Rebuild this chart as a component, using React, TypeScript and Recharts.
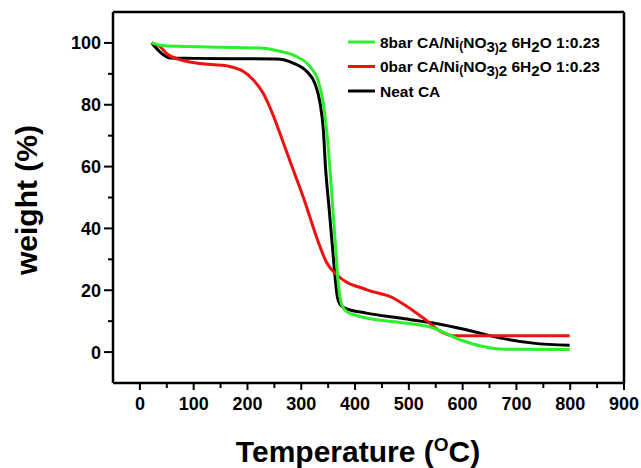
import React from "react";
import {
  LineChart,
  Line,
  XAxis,
  YAxis,
  ReferenceLine,
} from "recharts";

// 8bar CA/Ni(NO3)2 6H2O 1:0.23
const greenTemp = [22, 40, 74, 150, 229, 260, 291, 316, 331, 341, 347, 353, 358, 363, 367, 371, 376, 385, 400, 421, 483, 545, 595, 638, 669, 700, 799];
const greenWeight = [100, 99.2, 98.9, 98.6, 98.3, 97.3, 95.6, 92.4, 88, 80.5, 72, 60, 48, 36, 26, 19, 15, 13, 12, 11, 9.6, 7.8, 4, 1.8, 1, 0.9, 0.8];

// 0bar CA/Ni(NO3)2 6H2O 1:0.23
const redTemp = [22, 37, 50, 74, 105, 167, 192, 211, 229, 248, 266, 285, 307, 328, 347, 366, 421, 471, 496, 527, 564, 582, 650, 799];
const redWeight = [100, 98.9, 96.5, 94.6, 93.5, 92.4, 90.8, 88, 83.8, 76.5, 68, 59, 48.5, 37.4, 29, 25, 20.2, 17.5, 14.8, 11, 6.2, 5.3, 5.3, 5.3];

// Neat CA
const blackTemp = [22, 35, 43, 56, 100, 254, 285, 310, 325, 335, 341, 345, 352, 358, 363, 367, 372, 380, 421, 483, 545, 607, 669, 731, 799];
const blackWeight = [100, 97.5, 96.2, 95.1, 95, 94.8, 93.5, 90.8, 87, 80.5, 72, 60, 46, 34, 24, 18, 15.5, 14.3, 12.6, 11, 9.4, 7.2, 4.6, 2.9, 2.2];

const xTicks = [0, 50, 100, 150, 200, 250, 300, 350, 400, 450, 500, 550, 600, 650, 700, 750, 800, 850, 900];
const yTicks = [0, 10, 20, 30, 40, 50, 60, 70, 80, 90, 100];

const seriesNames = [
  "8bar CA/Ni(NO3)2 6H2O 1:0.23",
  "0bar CA/Ni(NO3)2 6H2O 1:0.23",
  "Neat CA",
];
const seriesColors = ["#2cf02c", "#ee1111", "#000000"];

const toPoints = (temps: number[], weights: number[]) =>
  temps.map((t, i) => ({ t, w: weights[i] }));

const greenData = toPoints(greenTemp, greenWeight);
const redData = toPoints(redTemp, redWeight);
const blackData = toPoints(blackTemp, blackWeight);

const FONT = "'Liberation Sans', Arial, sans-serif";

function XTick({ x, y, payload }: any) {
  const major = payload.value % 100 === 0;
  return (
    <g>
      <line x1={x} y1={y} x2={x} y2={y + (major ? 7 : 5)} stroke="#000" strokeWidth={2} />
      {major && (
        <text x={x} y={y + 27} textAnchor="middle" fontFamily={FONT} fontWeight="bold" fontSize={18} fill="#000">
          {payload.value}
        </text>
      )}
    </g>
  );
}

function YTick({ x, y, payload }: any) {
  const major = payload.value % 20 === 0;
  return (
    <g>
      <line x1={x} y1={y} x2={x - (major ? 9 : 5)} y2={y} stroke="#000" strokeWidth={2} />
      {major && (
        <text x={x - 12} y={y + 6.5} textAnchor="end" fontFamily={FONT} fontWeight="bold" fontSize={18} fill="#000">
          {payload.value}
        </text>
      )}
    </g>
  );
}

// the salt formula with its small brackets and subscripts
function Formula({ prefix }: { prefix: string }) {
  return (
    <>
      <tspan>{prefix} CA/Ni</tspan>
      <tspan fontSize={12} dy={2}>(</tspan>
      <tspan fontSize={15.5} dy={-2}>NO</tspan>
      <tspan fontSize={15} dy={4}>3</tspan>
      <tspan fontSize={12}>)</tspan>
      <tspan fontSize={15}>2</tspan>
      <tspan fontSize={15.5} dy={-4}> 6H</tspan>
      <tspan fontSize={15} dy={4}>2</tspan>
      <tspan fontSize={15.5} dy={-4}>O 1:0.23</tspan>
    </>
  );
}

function Overlay() {
  return (
    <svg width={641} height={468} style={{ position: "absolute", left: 0, top: 0, pointerEvents: "none" }}>
      <g transform="translate(340 28)">
        {seriesNames.map((name, i) => {
          const cy = 14 + i * 24.5;
          return (
            <g key={name}>
              <line x1={8} x2={35} y1={cy} y2={cy} stroke={seriesColors[i]} strokeWidth={3} />
              <text x={40} y={cy + 5.5} fontFamily={FONT} fontWeight="bold" fontSize={15.5} fill="#000">
                {i < 2 ? <Formula prefix={name.split(" ")[0]} /> : name}
              </text>
            </g>
          );
        })}
      </g>
      <text x={358} y={462} textAnchor="middle" fontFamily={FONT} fontWeight="bold" fontSize={30} fill="#000">
        Temperature (
        <tspan fontSize={19} dy={-11}>O</tspan>
        <tspan fontSize={30} dy={11}>C)</tspan>
      </text>
      <text
        x={37}
        y={200}
        transform="rotate(-90 37 200)"
        textAnchor="middle"
        fontFamily={FONT}
        fontWeight="bold"
        fontSize={30}
        fill="#000"
      >
        weight (%)
      </text>
    </svg>
  );
}

export default function App() {
  return (
    <div style={{ position: "absolute", left: 0, top: 0, width: 641, height: 468, background: "#fff" }}>
      <LineChart width={641} height={468} margin={{ top: 12, right: 17, bottom: 25, left: 53 }}>
        <XAxis
          type="number"
          dataKey="t"
          domain={[-50, 900]}
          ticks={xTicks}
          interval={0}
          allowDataOverflow
          height={60}
          tickSize={0}
          tickMargin={0}
          tickLine={false}
          axisLine={{ stroke: "#000", strokeWidth: 2.5 }}
          tick={<XTick />}
        />
        <YAxis
          type="number"
          dataKey="w"
          domain={[-10, 110]}
          ticks={yTicks}
          interval={0}
          allowDataOverflow
          width={60}
          tickSize={0}
          tickMargin={0}
          tickLine={false}
          axisLine={{ stroke: "#000", strokeWidth: 2.5 }}
          tick={<YTick />}
        />
        <ReferenceLine y={110} stroke="#000" strokeWidth={2.5} />
        <ReferenceLine x={900} stroke="#000" strokeWidth={2.5} />
        <Line data={blackData} dataKey="w" type="monotone" stroke={seriesColors[2]} strokeWidth={3} dot={false} isAnimationActive={false} />
        <Line data={redData} dataKey="w" type="monotone" stroke={seriesColors[1]} strokeWidth={3} dot={false} isAnimationActive={false} />
        <Line data={greenData} dataKey="w" type="monotone" stroke={seriesColors[0]} strokeWidth={3} dot={false} isAnimationActive={false} />
      </LineChart>
      <Overlay />
    </div>
  );
}
